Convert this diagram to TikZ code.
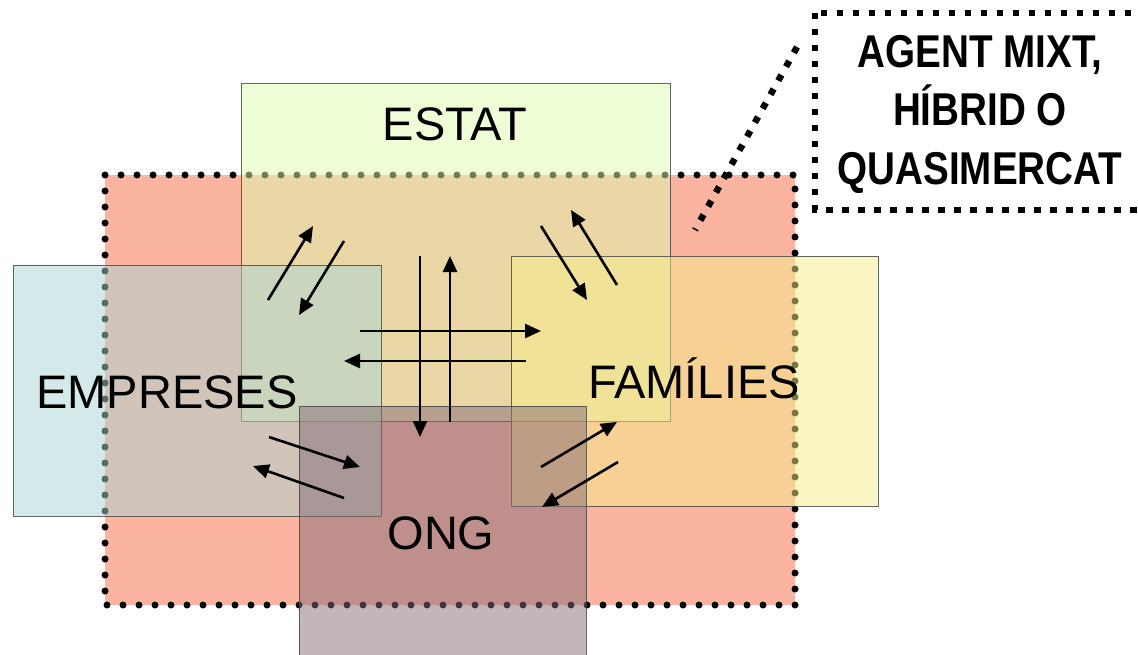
\documentclass[tikz,border=0pt]{standalone}
\usepackage{fontspec}
\setmainfont{Liberation Sans}
\usetikzlibrary{arrows.meta}
\definecolor{redfill}{RGB}{251,180,160}
\definecolor{estatc}{RGB}{221,251,173}
\definecolor{empresc}{RGB}{169,213,213}
\definecolor{famc}{RGB}{245,238,135}
\definecolor{ongc}{RGB}{133,109,119}
\tikzset{
  px/.style={x={(1pt,0)},y={(0,-1pt)}},
  agentbox/.style={draw=black!75,line width=0.9pt,fill opacity=0.5,draw opacity=0.8,inner sep=0pt},
  biglabel/.style={font=\fontsize{47}{50}\selectfont,anchor=base,inner sep=0pt},
  flow/.style={line width=2.6pt,-{Triangle[length=16pt,width=14pt]}},
  rounddots/.style={line width=7pt,line cap=round,dash pattern=on 0pt off 16pt},
  squaredots/.style={line width=6.5pt,dash pattern=on 6.5pt off 9.5pt},
}
\begin{document}
\begin{tikzpicture}[px]
\useasboundingbox (0,0) rectangle (1138,655);
\clip (0,0) rectangle (1138,655);
% mixed agent area
\fill[redfill] (105,175) rectangle (795,605);
\draw[rounddots] (105,175) rectangle (795,605);
% leader and callout
\coordinate (leadA) at (797,47);
\coordinate (leadB) at (695,230);
\draw[squaredots] (leadA) -- (leadB);
\draw[squaredots,fill=white] (815,13) rectangle (1160,210);
\node[inner sep=0pt,align=center,font=\bfseries\fontsize{46}{58.5}\selectfont] (callout) at (980,114)
  {\scalebox{0.84}[1]{AGENT MIXT,}\\\scalebox{0.84}[1]{HÍBRID O}\\\scalebox{0.84}[1]{QUASIMERCAT}};
% agent boxes
\node[agentbox,fill=estatc,minimum width=429pt,minimum height=338pt] (estat) at (455.5,252) {};
\node[agentbox,fill=empresc,minimum width=368pt,minimum height=251pt] (empreses) at (197,390.5) {};
\node[agentbox,fill=famc,minimum width=367pt,minimum height=250pt] (families) at (694.5,381) {};
\node[agentbox,fill=ongc,minimum width=287pt,minimum height=260pt] (ong) at (442.5,536) {};
% labels
\node[biglabel] (lestat) at (455,141) {ESTAT};
\node[biglabel] (lemp) at (167,408) {EMPRESES};
\node[biglabel] (lfam) at (694,398) {FAMÍLIES};
\node[biglabel] (long) at (441,549) {ONG};
% arrows
\coordinate (a1s) at (268,300); \coordinate (a1e) at (313,226);
\coordinate (a2s) at (344,241); \coordinate (a2e) at (299,315);
\coordinate (a3s) at (420,256); \coordinate (a3e) at (420,437);
\coordinate (a4s) at (450,422); \coordinate (a4e) at (450,256);
\coordinate (a5s) at (360,331); \coordinate (a5e) at (541,331);
\coordinate (a6s) at (526,361); \coordinate (a6e) at (344,361);
\coordinate (a7s) at (541,226); \coordinate (a7e) at (587,300);
\coordinate (a8s) at (617,285); \coordinate (a8e) at (571,210);
\coordinate (a9s) at (269,437); \coordinate (a9e) at (360,467);
\coordinate (a10s) at (344,498); \coordinate (a10e) at (253,466);
\coordinate (a11s) at (541,467); \coordinate (a11e) at (617,422);
\coordinate (a12s) at (618,462); \coordinate (a12e) at (542,507);
\foreach \i in {1,...,12} {\draw[flow] (a\i s) -- (a\i e);}
\end{tikzpicture}
\end{document}
